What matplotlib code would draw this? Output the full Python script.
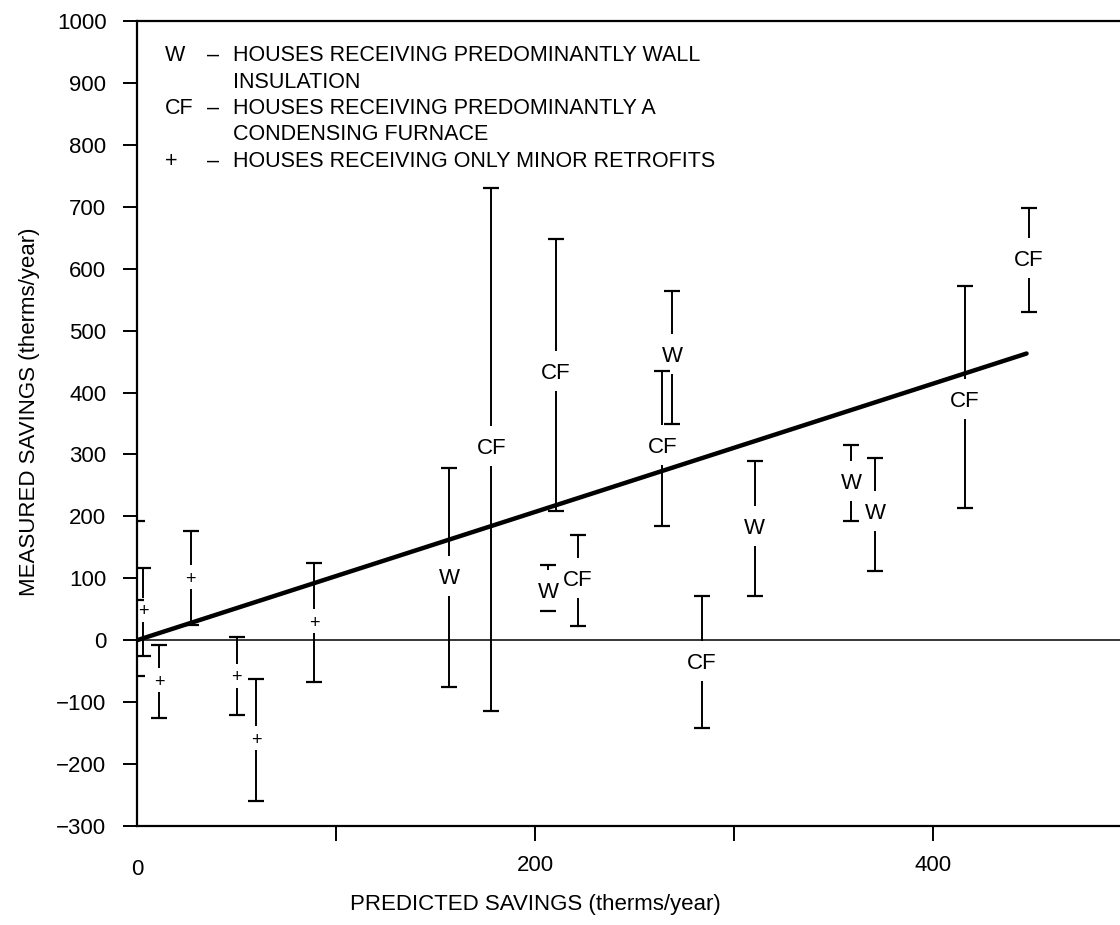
import matplotlib
matplotlib.use("Agg")
import matplotlib.pyplot as plt

plt.rcParams['font.family'] = ['Liberation Sans', 'DejaVu Sans']

# houses with only minor retrofits (+)
plus_x = [3, 11, 27, 50, 60, 89]
plus_y = [49, -65, 102, -57, -158, 31]
plus_lo = [-25, -126, 25, -120, -260, -67]
plus_hi = [117, -7, 176, 5, -63, 125]

# minor-retrofit house that sits on the y axis
axis_x = [0]
axis_y = [65]
axis_lo = [-57]
axis_hi = [193]

# houses with wall insulation (W)
w_x = [157, 206.5, 269, 310.5, 359, 371]
w_y = [104, 81, 463, 184, 257, 208]
w_lo = [-75, 47, 350, 72, 192, 112]
w_hi = [278, 122, 564, 290, 315, 295]

# houses with a condensing furnace (CF)
cf_x = [178, 210.5, 221.6, 264, 284, 416, 448]
cf_y = [313, 434, 101, 315, -33, 390, 617]
cf_lo = [-115, 208, 23, 184, -141, 213, 530]
cf_hi = [730, 648, 170, 434, 72, 572, 698]

# fitted line
fit_x = [0, 447]
fit_y = [0, 463]

legend_rows = [
    ("W", "HOUSES RECEIVING PREDOMINANTLY WALL"),
    ("", "INSULATION"),
    ("CF", "HOUSES RECEIVING PREDOMINANTLY A"),
    ("", "CONDENSING FURNACE"),
    ("+", "HOUSES RECEIVING ONLY MINOR RETROFITS"),
]

W, H = 1120, 925
fig = plt.figure(figsize=(W / 100, H / 100), dpi=100)
ax = fig.add_axes([137 / W, 1 - 826 / H, 995 / W, (826 - 21) / H])
ax.set_xlim(0, 500)
ax.set_ylim(-300, 1000)

for side in ["left", "bottom", "top"]:
    ax.spines[side].set_linewidth(1.6)
ax.spines["right"].set_visible(False)

ax.set_yticks(range(-300, 1001, 100))
ax.tick_params(axis="y", direction="out", length=10, width=1.4, pad=12, labelsize=16)
ax.set_xticks([100, 200, 300, 400], labels=["", "200", "", "400"])
ax.set_xticks([0], labels=["0"], minor=True)
ax.tick_params(axis="x", which="major", direction="out", length=11, width=1.4, pad=10, labelsize=16)
ax.tick_params(axis="x", which="minor", length=0, pad=24, labelsize=16)

ax.set_xlabel("PREDICTED SAVINGS (therms/year)", fontsize=16)
ax.xaxis.set_label_coords(0.40, -0.085)
ax.set_ylabel("MEASURED SAVINGS (therms/year)", fontsize=16)
ax.yaxis.set_label_coords(-0.097, 0.515)

ax.axhline(0, color="black", lw=1.1, zorder=1)
ax.plot(fit_x, fit_y, color="black", lw=3.2, solid_capstyle="round", zorder=2)

# pixels per data unit, used to leave a gap round each symbol
px_per_unit = ax.transData.transform((0, 1))[1] - ax.transData.transform((0, 0))[1]


def draw_caps(xs, los, his):
    ax.plot(xs, los, ls="none", marker="_", ms=12, mew=1.6, color="black", zorder=3)
    ax.plot(xs, his, ls="none", marker="_", ms=12, mew=1.6, color="black", zorder=3)


def draw_group(xs, ys, los, his, symbol, gap_px, size):
    gap = gap_px / px_per_unit
    for x, y, lo, hi in zip(xs, ys, los, his):
        if hi > y + gap:
            ax.vlines(x, y + gap, hi, color="black", lw=1.4, zorder=3)
        if lo < y - gap:
            ax.vlines(x, lo, y - gap, color="black", lw=1.4, zorder=3)
        ax.text(x, y, symbol, ha="center", va="center_baseline", fontsize=size, zorder=4)
    draw_caps(xs, los, his)


draw_group(plus_x, plus_y, plus_lo, plus_hi, "+", 12, 13)
draw_group(w_x, w_y, w_lo, w_hi, "W", 20, 16)
draw_group(cf_x, cf_y, cf_lo, cf_hi, "CF", 20, 16)

# the point on the axis: its bar lies under the spine, so only the marks show
ax.vlines(axis_x, axis_lo, axis_hi, color="black", lw=1.4, zorder=3)
ax.plot(axis_x, axis_y, ls="none", marker="_", ms=10, mew=1.6, color="black", zorder=3)
draw_caps(axis_x, axis_lo, axis_hi)

y0 = 53
for i, (sym, txt) in enumerate(legend_rows):
    ypos = 1 - (y0 + i * 26.5) / H
    if sym:
        fig.text(165 / W, ypos, sym, ha="left", va="center_baseline", fontsize=15.5)
        fig.text(213 / W, ypos, "–", ha="center", va="center_baseline", fontsize=15.5)
    fig.text(233 / W, ypos, txt, ha="left", va="center_baseline", fontsize=15.5)

fig.savefig("out.png", dpi=100)
